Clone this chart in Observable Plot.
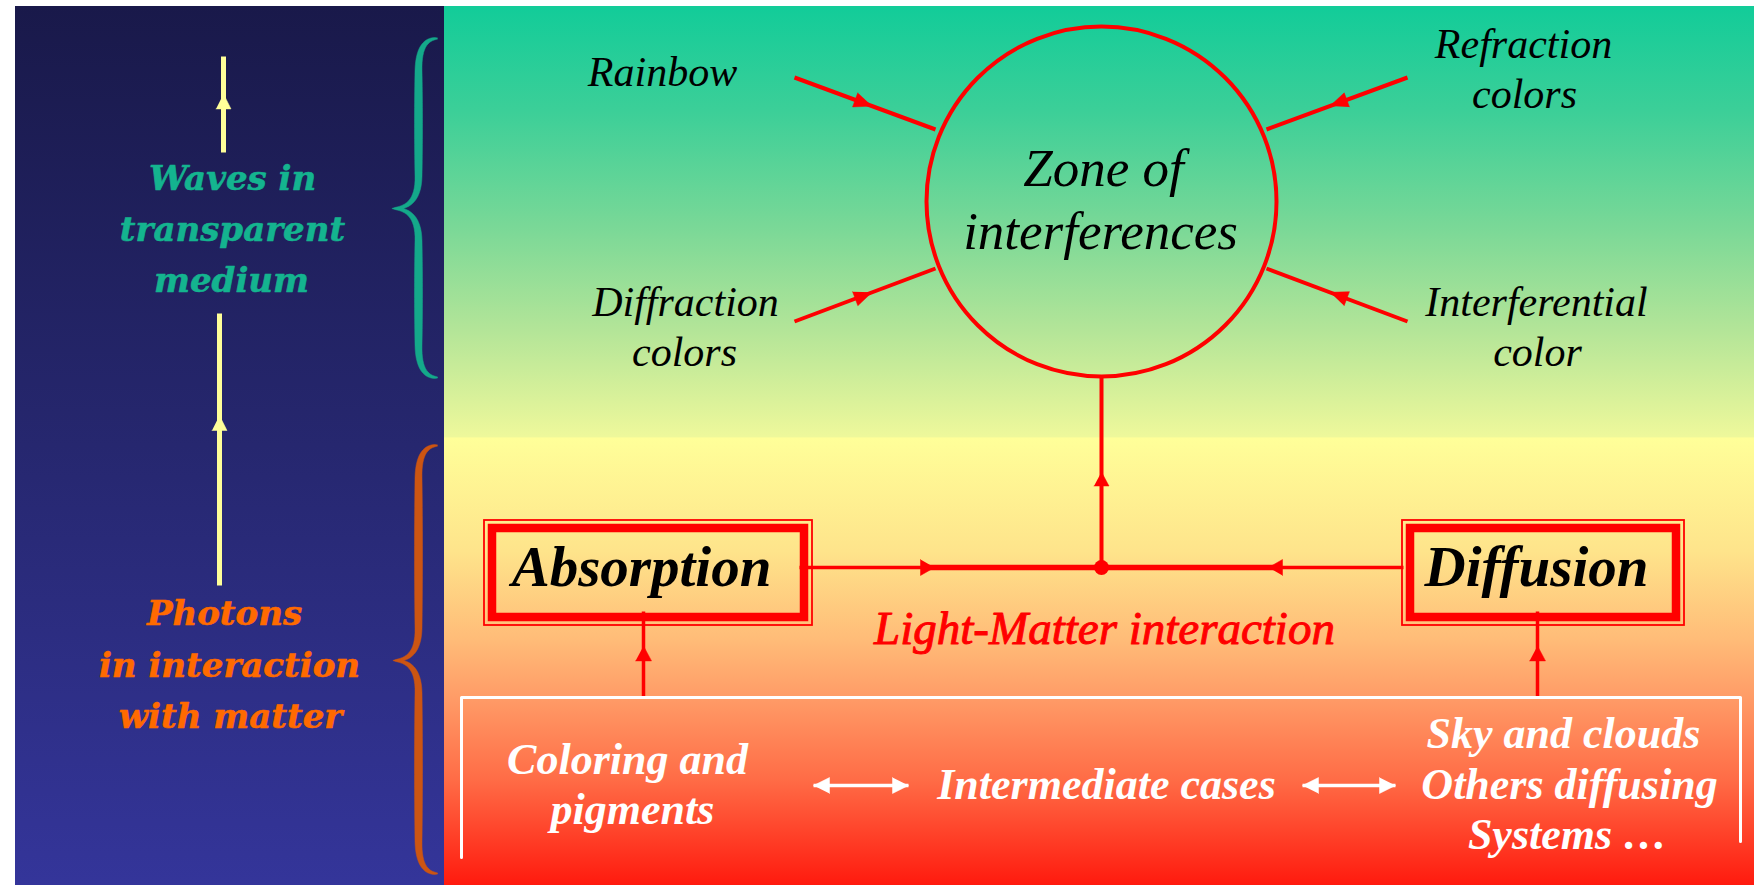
<!DOCTYPE html>
<html>
<head>
<meta charset="utf-8">
<script src="https://cdn.jsdelivr.net/npm/d3@7"></script>
<script src="https://cdn.jsdelivr.net/npm/@observablehq/plot@0.6"></script>
<style>
  html, body { margin: 0; padding: 0; background: #ffffff; }
  #chart svg { display: block; }
</style>
</head>
<body>
<div id="chart"></div>
<script>
const W = 1754, H = 885;

// ---- Diagram content (layout units = pixels of the 1754x885 slide) ----
const panels = [
  {id: "left",  x1: 15,  x2: 444,  y1: 6, y2: 885},
  {id: "right", x1: 444, x2: 1754, y1: 6, y2: 885}
];

const braces = [
  {id: "waves",   xEnd: 437, xArm: 418, xTip: 392, yTop: 38,  yTip: 208, yBottom: 377},
  {id: "photons", xEnd: 437, xArm: 418, xTip: 393, yTop: 445, yTip: 660, yBottom: 873}
];

const yellowArrows = [
  {x1: 223, y1: 152, x2: 223, y2: 56,  at: 0.61},
  {x1: 219, y1: 585, x2: 219, y2: 313, at: 0.625}
];

const wavesLines   = [{t: "Waves in", x: 232, y: 189}, {t: "transparent", x: 232, y: 240}, {t: "medium", x: 231, y: 291}];
const photonsLines = [{t: "Photons", x: 224, y: 624}, {t: "in interaction", x: 229, y: 676}, {t: "with matter", x: 230, y: 727}];

const zone = [{id: "zone", x: 1101, y: 201}];
const zoneLines = [{t: "Zone of", x: 1103, y: 185}, {t: "interferences", x: 1100, y: 248}];

const sourceLabels = [
  {t: "Rainbow", x: 662, y: 85},
  {t: "Refraction", x: 1523, y: 57}, {t: "colors", x: 1524, y: 107},
  {t: "Diffraction", x: 685, y: 315}, {t: "colors", x: 684, y: 365},
  {t: "Interferential", x: 1536, y: 315}, {t: "color", x: 1537, y: 365}
];

const radialLinks = [
  {id: "Rainbow",              x1: 794,  y1: 77,  x2: 935,  y2: 129, at: 0.55},
  {id: "Diffraction colors",   x1: 794,  y1: 321, x2: 935,  y2: 268, at: 0.55},
  {id: "Refraction colors",    x1: 1407, y1: 77,  x2: 1266, y2: 129, at: 0.55},
  {id: "Interferential color", x1: 1407, y1: 321, x2: 1266, y2: 268, at: 0.55}
];

const stem = [{x1: 1101, y1: 567, x2: 1101, y2: 376, at: 0.5}];
const junction = [{x: 1101, y: 567}];
const sideFeeds = [
  {id: "absorption", x1: 799,  y1: 567, x2: 934,  y2: 567},
  {id: "diffusion",  x1: 1403, y1: 567, x2: 1268, y2: 567}
];
const coreLink = [{x1: 922, y1: 567, x2: 1280, y2: 567}];

const boxes = [
  {id: "Absorption", x1: 484,  x2: 812,  y1: 520, y2: 625},
  {id: "Diffusion",  x1: 1402, x2: 1684, y1: 520, y2: 625}
];
const boxLabels = [{t: "Absorption", x: 641, y: 585}, {t: "Diffusion", x: 1536, y: 585}];
const interactionLabel = [{t: "Light-Matter interaction", x: 1104, y: 643}];

const upArrows = [
  {x1: 643,  y1: 697, x2: 643,  y2: 611, at: 0.6},
  {x1: 1537, y1: 697, x2: 1537, y2: 611, at: 0.6}
];

const frame = [
  {x: 461, y: 857}, {x: 461, y: 697}, {x: 1740, y: 697}, {x: 1740, y: 841}
];

const systemLabels = [
  {t: "Coloring and", x: 627, y: 773}, {t: "pigments", x: 632, y: 823},
  {t: "Intermediate cases", x: 1106, y: 798},
  {t: "Sky and clouds", x: 1563, y: 747}, {t: "Others diffusing", x: 1569, y: 798}, {t: "Systems …", x: 1567, y: 848}
];

const doubleArrows = [
  {x1: 813,  y1: 785, x2: 908,  y2: 785},
  {x1: 1302, y1: 785, x2: 1395, y2: 785}
];

// ---- helpers: shapes computed from the data above ----
function triangle(id, tipX, tipY, fromX, fromY, len, half) {
  const dx = tipX - fromX, dy = tipY - fromY, L = Math.hypot(dx, dy);
  const ux = dx / L, uy = dy / L, nx = -uy, ny = ux;
  const bx = tipX - ux * len, by = tipY - uy * len;
  return [
    {id, x: tipX, y: tipY},
    {id, x: bx + nx * half, y: by + ny * half},
    {id, x: bx - nx * half, y: by - ny * half}
  ];
}
function midHeads(list, prefix, len, half) {
  return list.flatMap((d, i) => {
    const tx = d.x1 + (d.x2 - d.x1) * d.at, ty = d.y1 + (d.y2 - d.y1) * d.at;
    return triangle(prefix + i, tx, ty, d.x1, d.y1, len, half);
  });
}
function bracePolygon(b) {
  const d = 32;
  const quad = (p0, p1, p2, n) => d3.range(n + 1).map(i => {
    const t = i / n;
    return [(1 - t) ** 2 * p0[0] + 2 * (1 - t) * t * p1[0] + t * t * p2[0],
            (1 - t) ** 2 * p0[1] + 2 * (1 - t) * t * p1[1] + t * t * p2[1]];
  });
  const seg = (p0, p1, n) => d3.range(1, n).map(i => [p0[0] + (p1[0] - p0[0]) * i / n, p0[1] + (p1[1] - p0[1]) * i / n]);
  const halfPts = (yA, yB) => {
    const s = Math.sign(yB - yA);
    return [
      ...quad([b.xEnd, yA], [b.xArm, yA], [b.xArm, yA + s * d], 14),
      ...seg([b.xArm, yA + s * d], [b.xArm, yB - s * d], 20),
      ...quad([b.xArm, yB - s * d], [b.xArm, yB], [b.xTip, yB], 14)
    ];
  };
  const upper = halfPts(b.yTop, b.yTip);
  const lower = halfPts(b.yBottom, b.yTip).reverse();
  const wmin = 1.2, wmax = 8;
  const widthAt = (arr) => arr.map((p, i) => wmin + (wmax - wmin) * Math.pow(Math.sin(Math.PI * i / (arr.length - 1)), 0.7));
  const pts = [...upper, ...lower.slice(1)];
  const ws = [...widthAt(upper), ...widthAt(lower).slice(1)];
  const left = [], right = [];
  pts.forEach((p, i) => {
    const a = pts[Math.max(0, i - 1)], c = pts[Math.min(pts.length - 1, i + 1)];
    let tx = c[0] - a[0], ty = c[1] - a[1]; const L = Math.hypot(tx, ty) || 1;
    tx /= L; ty /= L;
    const nx = -ty, ny = tx, w = ws[i] / 2;
    left.push({id: b.id, x: p[0] + nx * w, y: p[1] + ny * w});
    right.push({id: b.id, x: p[0] - nx * w, y: p[1] - ny * w});
  });
  return [...left, ...right.reverse()];
}

const gradientDefs = () => {
  const defs = d3.create("svg:defs");
  const gl = defs.append("linearGradient").attr("id", "gradLeft").attr("x1", 0).attr("y1", 0).attr("x2", 0).attr("y2", 1);
  [[0, "#19194a"], [0.5, "#26276f"], [1, "#34359a"]].forEach(([o, c]) => gl.append("stop").attr("offset", o).attr("stop-color", c));
  const gr = defs.append("linearGradient").attr("id", "gradRight").attr("x1", 0).attr("y1", 0).attr("x2", 0).attr("y2", 1);
  [[0, "#12cc99"], [0.12, "#3ccf98"], [0.25, "#79d897"], [0.37, "#b4e598"], [0.49, "#eef89b"],
   [0.4915, "#ffff99"], [0.62, "#fee48b"], [0.72, "#ffbc78"], [0.79, "#ff9a66"], [0.88, "#ff6c46"], [1, "#ff1a0e"]]
    .forEach(([o, c]) => gr.append("stop").attr("offset", o).attr("stop-color", c));
  return defs.node();
};

const RED = "#ff0000";
const SERIF = "Liberation Serif";

const chart = Plot.plot({
  width: W,
  height: H,
  margin: 0,
  x: {domain: [0, W], range: [0, W], axis: null},
  y: {domain: [0, H], range: [0, H], axis: null},
  style: {background: "#ffffff", overflow: "visible"},
  marks: [
    gradientDefs,
    Plot.rect(panels.filter(d => d.id === "left"), {x1: "x1", x2: "x2", y1: "y1", y2: "y2", fill: "url(#gradLeft)", inset: 0}),
    Plot.rect(panels.filter(d => d.id === "right"), {x1: "x1", x2: "x2", y1: "y1", y2: "y2", fill: "url(#gradRight)", inset: 0}),

    // left panel
    Plot.line(bracePolygon(braces[0]), {x: "x", y: "y", z: "id", fill: "#14a98a", stroke: "#14a98a", strokeWidth: 0.5, curve: "linear"}),
    Plot.line(bracePolygon(braces[1]), {x: "x", y: "y", z: "id", fill: "#cc5512", stroke: "#cc5512", strokeWidth: 0.5, curve: "linear"}),
    Plot.link(yellowArrows, {x1: "x1", y1: "y1", x2: "x2", y2: "y2", stroke: "#ffff99", strokeWidth: 5}),
    Plot.line(midHeads(yellowArrows, "ya", 15, 7.5), {x: "x", y: "y", z: "id", fill: "#ffff99", stroke: "#ffff99", strokeWidth: 0.5}),
    Plot.text(wavesLines, {x: "x", y: "y", text: "t", lineAnchor: "bottom", fill: "#14b48f", stroke: "#14b48f", strokeWidth: 0.6, fontFamily: "DejaVu Serif", fontStyle: "italic", fontWeight: "bold", fontSize: 34}),
    Plot.text(photonsLines, {x: "x", y: "y", text: "t", lineAnchor: "bottom", fill: "#ff6a00", stroke: "#ff6a00", strokeWidth: 0.6, fontFamily: "DejaVu Serif", fontStyle: "italic", fontWeight: "bold", fontSize: 34}),

    // zone of interferences
    Plot.dot(zone, {x: "x", y: "y", r: 175, stroke: RED, strokeWidth: 4, fill: "none"}),
    Plot.text(zoneLines, {x: "x", y: "y", text: "t", lineAnchor: "bottom", fill: "#000000", fontFamily: SERIF, fontStyle: "italic", fontSize: 53}),
    Plot.link(radialLinks, {x1: "x1", y1: "y1", x2: "x2", y2: "y2", stroke: RED, strokeWidth: 4}),
    Plot.line(midHeads(radialLinks, "ra", 18, 7.5), {x: "x", y: "y", z: "id", fill: RED, stroke: RED, strokeWidth: 0.5}),
    Plot.text(sourceLabels, {x: "x", y: "y", text: "t", lineAnchor: "bottom", fill: "#000000", fontFamily: SERIF, fontStyle: "italic", fontSize: 42}),

    // light-matter interaction
    Plot.link(stem, {x1: "x1", y1: "y1", x2: "x2", y2: "y2", stroke: RED, strokeWidth: 4}),
    Plot.line(midHeads(stem, "st", 14, 7.5), {x: "x", y: "y", z: "id", fill: RED, stroke: RED, strokeWidth: 0.5}),
    Plot.link(sideFeeds, {x1: "x1", y1: "y1", x2: "x2", y2: "y2", stroke: RED, strokeWidth: 3.5}),
    Plot.link(coreLink, {x1: "x1", y1: "y1", x2: "x2", y2: "y2", stroke: RED, strokeWidth: 5.5}),
    Plot.line(sideFeeds.flatMap((d, i) => triangle("sf" + i, d.x2, d.y2, d.x1, d.y1, 14, 8)), {x: "x", y: "y", z: "id", fill: RED, stroke: RED, strokeWidth: 0.5}),
    Plot.dot(junction, {x: "x", y: "y", r: 7.5, fill: RED}),
    Plot.rect(boxes, {x1: "x1", x2: "x2", y1: "y1", y2: "y2", stroke: RED, strokeWidth: 1.8, fill: "none"}),
    Plot.rect(boxes, {x1: "x1", x2: "x2", y1: "y1", y2: "y2", inset: 8, stroke: RED, strokeWidth: 8.5, fill: "none"}),
    Plot.text(boxLabels, {x: "x", y: "y", text: "t", lineAnchor: "bottom", fill: "#000000", fontFamily: SERIF, fontStyle: "italic", fontWeight: "bold", fontSize: 57}),
    Plot.text(interactionLabel, {x: "x", y: "y", text: "t", lineAnchor: "bottom", fill: RED, stroke: RED, strokeWidth: 1, fontFamily: SERIF, fontStyle: "italic", fontSize: 47}),

    // systems frame
    Plot.link(upArrows, {x1: "x1", y1: "y1", x2: "x2", y2: "y2", stroke: RED, strokeWidth: 3.5}),
    Plot.line(midHeads(upArrows, "ua", 15, 8), {x: "x", y: "y", z: "id", fill: RED, stroke: RED, strokeWidth: 0.5}),
    Plot.line(frame, {x: "x", y: "y", stroke: "#ffffff", strokeWidth: 3, curve: "linear"}),
    Plot.link(doubleArrows, {x1: "x1", y1: "y1", x2: "x2", y2: "y2", stroke: "#ffffff", strokeWidth: 3.5}),
    Plot.line(doubleArrows.flatMap((d, i) => [
      ...triangle("da" + i + "a", d.x1, d.y1, d.x2, d.y2, 16, 8),
      ...triangle("da" + i + "b", d.x2, d.y2, d.x1, d.y1, 16, 8)
    ]), {x: "x", y: "y", z: "id", fill: "#ffffff", stroke: "#ffffff", strokeWidth: 0.5}),
    Plot.text(systemLabels, {x: "x", y: "y", text: "t", lineAnchor: "bottom", fill: "#ffffff", fontFamily: SERIF, fontStyle: "italic", fontWeight: "bold", fontSize: 44})
  ]
});

document.getElementById("chart").appendChild(chart);
</script>
</body>
</html>
